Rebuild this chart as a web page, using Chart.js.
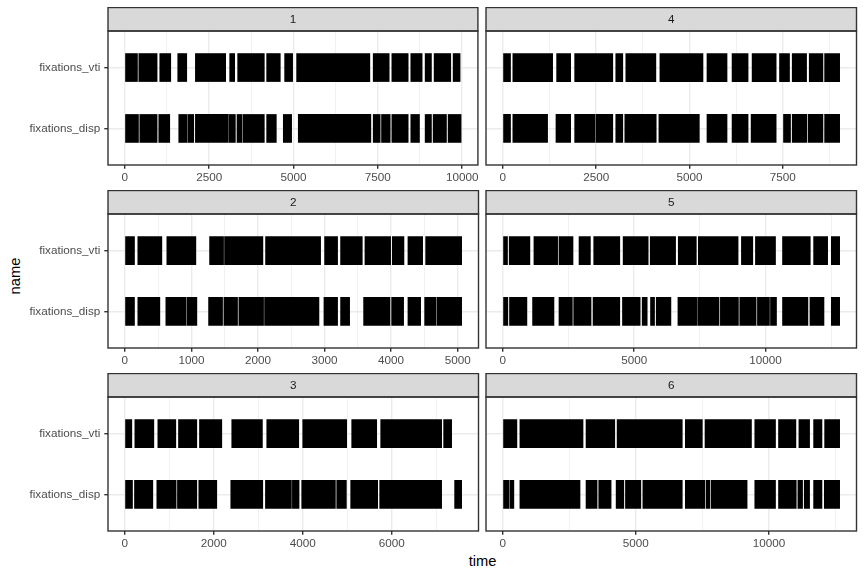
<!DOCTYPE html>
<html><head><meta charset="utf-8">
<script src="https://cdn.jsdelivr.net/npm/chart.js@4.4.1/dist/chart.umd.min.js"></script>
<style>
html,body{margin:0;padding:0;background:#fff;}
#wrap{position:relative;width:864px;height:576px;overflow:hidden;font-family:"Liberation Sans",Arial,sans-serif;background:#fff;}
canvas{position:absolute;}
.axt{position:absolute;font-size:14.7px;color:#000;white-space:nowrap;line-height:1;}
</style></head><body>
<div id="wrap">
<div class="axt" style="left:15px;top:276px;transform:translate(-50%,-50%) rotate(-90deg);">name</div>
<div class="axt" style="left:482.5px;top:561px;transform:translate(-50%,-50%);">time</div>
</div>
<script>
// ---- data ----
const names = ['fixations_vti', 'fixations_disp'];
const panelLabels = ['1', '4', '2', '5', '3', '6'];

const p1_vti = [[0,375],[415,957],[1036,1362],[1569,1836],[2092,2990],[3109,3257],[3346,4135],[4205,4609],[4738,4975],[5093,7264],[7363,7837],[7916,8400],[8478,8814],[8903,9090],[9169,9663],[9732,9939]];
const p1_disp = [[0,405],[444,957],[1007,1332],[1599,1836],[1865,2043],[2092,3070],[3099,3277],[3326,3474],[3504,4135],[4205,4491],[4698,4945],[5142,7294],[7363,7570],[7610,7867],[7916,8400],[8478,8735],[8903,9090],[9140,9535],[9584,9969]];
const p1_ticks = [0,2500,5000,7500,10000];

const p4_vti = [[0,206],[268,1334],[1441,1817],[1924,2945],[3025,3213],[3294,4099],[4207,5361],[5468,6005],[6140,6569],[6677,7321],[7411,7679],[7751,8136],[8207,8574],[8619,9022]];
const p4_disp = [[0,206],[268,1199],[1423,1817],[1924,2470],[2497,2945],[3025,3213],[3267,4108],[4180,5263],[5468,6005],[6140,6569],[6650,7321],[7518,7706],[7751,8145],[8181,8574],[8619,9022]];
const p4_ticks = [0,2500,5000,7500];

const p2_vti = [[0,145],[195,556],[631,1067],[1273,1483],[1498,2074],[2114,2941],[3001,3196],[3241,3567],[3607,3993],[4018,4193],[4253,4474],[4519,5060]];
const p2_disp = [[0,145],[195,526],[616,917],[932,1082],[1258,1468],[1488,1693],[1713,2084],[2099,2916],[2991,3196],[3241,3377],[3587,3983],[4008,4188],[4253,4444],[4504,4674],[4689,5060]];
const p2_ticks = [0,1000,2000,3000,4000,5000];

const p5_vti = [[0,178],[242,1030],[1183,2086],[2137,2671],[2900,3333],[3460,4452],[4579,5533],[5610,6576],[6678,7365],[7441,8955],[9082,9515],[9616,10380],[10647,11703],[11831,12365],[12504,12822]];
const p5_disp = [[0,191],[254,916],[1132,1946],[2137,2646],[2697,3358],[3434,4452],[4554,5228],[5304,5495],[5622,5775],[5839,6398],[6665,7378],[7416,8230],[8281,8968],[9019,9642],[9692,10150],[10189,10418],[10647,11614],[11691,12225],[12504,12822]];
const p5_ticks = [0,5000,10000];

const p3_vti = [[0,157],[225,652],[742,1146],[1206,1618],[1678,2180],[2404,3093],[3191,3910],[4000,4988],[5101,5663],[5753,7123],[7168,7348]];
const p3_disp = [[0,172],[217,629],[719,1153],[1183,1618],[1663,2067],[2382,3101],[3161,3745],[3767,3917],[3977,4734],[4764,4981],[5078,5685],[5730,7123],[7415,7573]];
const p3_ticks = [0,2000,4000,6000];

const p6_vti = [[0,528],[641,3014],[3127,4207],[4295,6744],[6858,7498],[7599,9345],[9470,10249],[10362,11015],[11128,11530],[11681,11995],[12095,12660]];
const p6_disp = [[0,226],[264,414],[641,2901],[3127,3542],[3605,4069],[4258,4547],[4609,5187],[5263,6744],[6858,7586],[7636,7775],[7825,9181],[9470,10249],[10362,11028],[11090,11266],[11329,11530],[11681,11995],[12083,12660]];
const p6_ticks = [0,5000,10000];

// ---- layout ----
const panels = [
  {label: panelLabels[0], vti: p1_vti, disp: p1_disp, ticks: p1_ticks, col: 0, row: 0},
  {label: panelLabels[1], vti: p4_vti, disp: p4_disp, ticks: p4_ticks, col: 1, row: 0},
  {label: panelLabels[2], vti: p2_vti, disp: p2_disp, ticks: p2_ticks, col: 0, row: 1},
  {label: panelLabels[3], vti: p5_vti, disp: p5_disp, ticks: p5_ticks, col: 1, row: 1},
  {label: panelLabels[4], vti: p3_vti, disp: p3_disp, ticks: p3_ticks, col: 0, row: 2},
  {label: panelLabels[5], vti: p6_vti, disp: p6_disp, ticks: p6_ticks, col: 1, row: 2}
];
const COL_LEFT = [0, 482], COL_YW = [108, 4], COL_W = [481, 377];
const ROW_TOP = [7, 190, 373];
const PAD_TOP = 24, STRIP_H = 23.5, PLOT_H = 134, XAX_H = 26;
const CANVAS_H = PAD_TOP + PLOT_H + XAX_H;
const FONT = '"Liberation Sans", Arial, sans-serif';

const panelDeco = {
  id: 'panelDeco',
  afterDraw(chart, args, opts) {
    const ctx = chart.ctx, a = chart.chartArea;
    const w = a.right - a.left;
    ctx.save();
    ctx.fillStyle = '#D9D9D9';
    ctx.fillRect(a.left, a.top - STRIP_H, w, STRIP_H);
    ctx.strokeStyle = '#333333';
    ctx.lineWidth = 1.4;
    ctx.strokeRect(a.left, a.top - STRIP_H, w, STRIP_H);
    ctx.strokeRect(a.left, a.top, w, a.bottom - a.top);
    ctx.fillStyle = '#1A1A1A';
    ctx.font = '11.7px ' + FONT;
    ctx.textAlign = 'center';
    ctx.textBaseline = 'middle';
    ctx.fillText(opts.label, (a.left + a.right) / 2, a.top - STRIP_H / 2 + 0.5);
    ctx.restore();
  }
};

const wrap = document.getElementById('wrap');

panels.forEach(p => {
  const cv = document.createElement('canvas');
  cv.width = COL_W[p.col];
  cv.height = CANVAS_H;
  cv.style.left = COL_LEFT[p.col] + 'px';
  cv.style.top = ROW_TOP[p.row] + 'px';
  cv.style.width = COL_W[p.col] + 'px';
  cv.style.height = CANVAS_H + 'px';
  wrap.appendChild(cv);

  const allEnds = p.vti.concat(p.disp).map(s => s[1]);
  const allStarts = p.vti.concat(p.disp).map(s => s[0]);
  const dmin = Math.min(...allStarts), dmax = Math.max(...allEnds);
  const pad = 0.05 * (dmax - dmin);
  const lo = dmin - pad, hi = dmax + pad;

  const majorSet = new Set(p.ticks);
  const step = p.ticks[1] - p.ticks[0];
  const minors = [];
  for (let v = p.ticks[0] - step / 2; v <= p.ticks[p.ticks.length - 1] + step / 2 + 1e-9; v += step) {
    if (v >= lo && v <= hi) minors.push(v);
  }
  const allTicks = p.ticks.concat(minors).sort((a, b) => a - b);
  const isMajor = c => c.tick && majorSet.has(c.tick.value);
  const leftCol = p.col === 0;

  new Chart(cv, {
    type: 'bar',
    data: {
      datasets: [
        {label: names[0], data: p.vti.map(s => ({x: s, y: 1})), backgroundColor: '#000000'},
        {label: names[1], data: p.disp.map(s => ({x: s, y: 0})), backgroundColor: '#000000'}
      ]
    },
    options: {
      indexAxis: 'y',
      responsive: false,
      animation: false,
      devicePixelRatio: 1,
      layout: {padding: {top: PAD_TOP, right: 2.5, left: 0, bottom: 0}},
      datasets: {bar: {grouped: false, barThickness: 28, borderWidth: 0}},
      plugins: {
        legend: {display: false},
        tooltip: {enabled: false},
        panelDeco: {label: p.label}
      },
      scales: {
        x: {
          type: 'linear', position: 'bottom', min: lo, max: hi, offset: false,
          afterBuildTicks: s => { s.ticks = allTicks.map(v => ({value: v})); },
          afterFit: s => { s.height = XAX_H; },
          ticks: {
            autoSkip: false, maxRotation: 0, minRotation: 0, padding: 2.5,
            color: '#4D4D4D', font: {family: FONT, size: 11.7},
            callback: v => majorSet.has(v) ? String(v) : ''
          },
          grid: {
            offset: false,
            color: '#EBEBEB',
            lineWidth: c => isMajor(c) ? 1.4 : 0.7,
            drawTicks: true,
            tickLength: 3.7,
            tickWidth: 1.4,
            tickColor: c => isMajor(c) ? '#333333' : 'rgba(0,0,0,0)'
          },
          border: {display: false}
        },
        y: {
          type: 'linear', position: 'left', min: -0.6, max: 1.6, offset: false,
          afterBuildTicks: s => { s.ticks = [{value: 0}, {value: 1}]; },
          afterFit: s => { s.width = COL_YW[p.col]; },
          ticks: {
            display: leftCol, padding: 4,
            color: '#4D4D4D', font: {family: FONT, size: 11.7},
            callback: v => v === 1 ? names[0] : names[1]
          },
          grid: {
            offset: false,
            color: '#EBEBEB', lineWidth: 1.4,
            drawTicks: leftCol, tickLength: 3.7, tickWidth: 1.4, tickColor: '#333333'
          },
          border: {display: false}
        }
      }
    },
    plugins: [panelDeco]
  });
});
</script>
</body></html>
